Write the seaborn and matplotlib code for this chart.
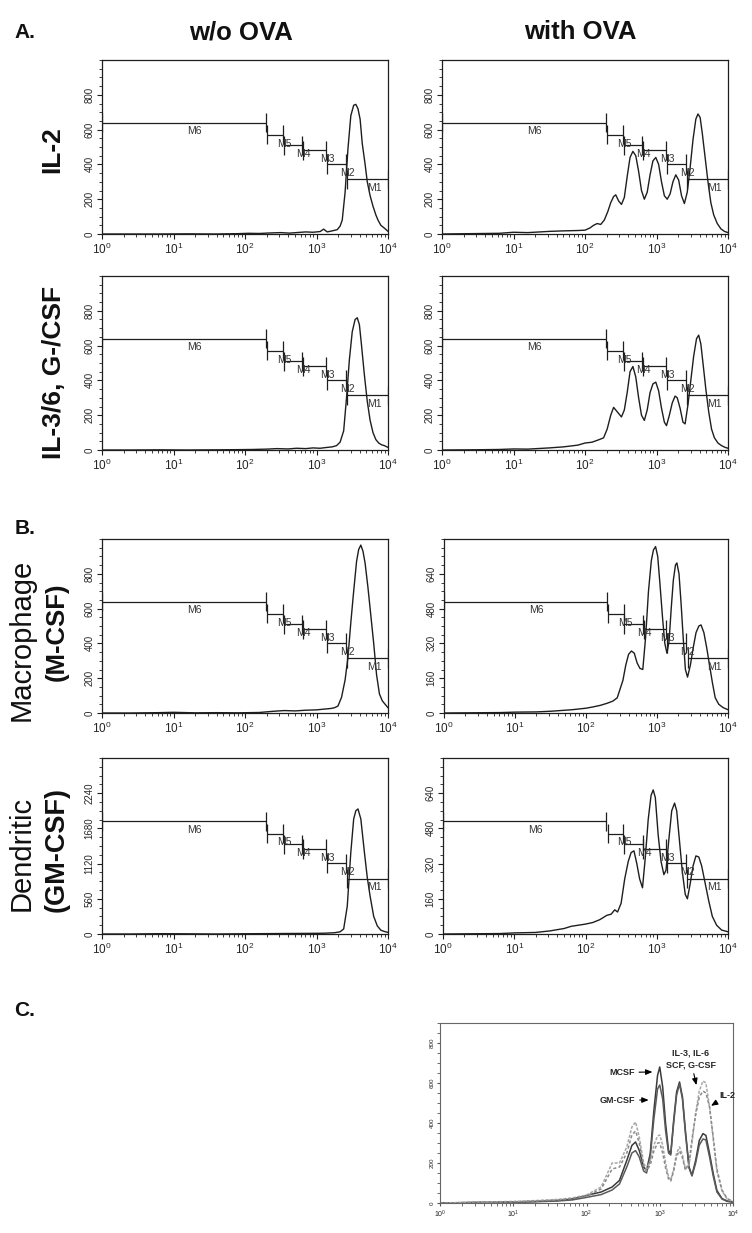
import numpy as np
import pandas as pd
import seaborn as sns
import matplotlib.pyplot as plt
from matplotlib.ticker import FixedLocator, MultipleLocator, LogLocator, NullFormatter

sns.set_style("ticks")
plt.rcParams["font.family"] = ["Liberation Sans", "DejaVu Sans"]
plt.rcParams["mathtext.default"] = "regular"

# marker gates (log10 start, log10 end, height on a 1000-count scale)
gate_names = ["M6", "M5", "M4", "M3", "M2", "M1"]
gate_lo = [0.0, 2.31, 2.54, 2.81, 3.14, 3.43]
gate_hi = [2.29, 2.53, 2.80, 3.13, 3.41, 4.0]
gate_h = [640, 570, 510, 482, 402, 315]

# ---- A. w/o OVA ----
il2_wo_lx = [0.0, 0.4, 0.8, 1.2, 1.6, 1.9, 2.05, 2.2, 2.35, 2.5, 2.62, 2.75, 2.85, 2.95, 3.05, 3.1,
             3.15, 3.22, 3.29, 3.33, 3.36, 3.40, 3.44, 3.48, 3.52, 3.55, 3.58, 3.61, 3.64, 3.68, 3.71,
             3.75, 3.79, 3.83, 3.86, 3.90, 3.93, 3.96, 4.0]
il2_wo_n = [0, 0, 0, 1, 0, 2, 4, 3, 6, 8, 5, 9, 12, 10, 14, 28, 12, 18, 25, 45, 80, 240, 490, 680,
            740, 745, 720, 660, 520, 400, 300, 220, 160, 110, 80, 50, 40, 30, 15]

il36_wo_lx = [0.0, 0.4, 0.8, 1.2, 1.6, 1.9, 2.1, 2.3, 2.45, 2.6, 2.72, 2.85, 2.95, 3.05, 3.15, 3.22,
              3.28, 3.33, 3.38, 3.42, 3.46, 3.50, 3.54, 3.57, 3.60, 3.63, 3.67, 3.71, 3.75, 3.79,
              3.83, 3.87, 3.91, 3.95, 4.0]
il36_wo_n = [0, 0, 1, 0, 1, 2, 3, 5, 8, 6, 10, 8, 12, 10, 15, 18, 25, 45, 110, 300, 520, 680, 750,
             760, 720, 600, 430, 280, 170, 100, 60, 40, 30, 25, 15]

il2_ova_lx = [0.0, 0.4, 0.8, 1.0, 1.2, 1.5, 1.7, 1.9, 2.0, 2.07, 2.12, 2.17, 2.22, 2.27, 2.32, 2.36,
              2.40, 2.43, 2.47, 2.51, 2.55, 2.59, 2.63, 2.67, 2.71, 2.75, 2.79, 2.83, 2.87, 2.91,
              2.95, 2.99, 3.03, 3.07, 3.11, 3.15, 3.19, 3.23, 3.27, 3.31, 3.35, 3.39, 3.43, 3.47,
              3.51, 3.55, 3.58, 3.61, 3.64, 3.68, 3.72, 3.76, 3.80, 3.85, 3.90, 3.95, 4.0]
il2_ova_n = [0, 2, 4, 10, 8, 15, 18, 20, 22, 35, 50, 60, 55, 80, 130, 180, 215, 225, 190, 170, 210,
             330, 440, 475, 450, 360, 250, 200, 240, 340, 420, 440, 400, 300, 220, 200, 230, 300,
             340, 310, 220, 175, 240, 380, 540, 660, 690, 670, 580, 440, 300, 180, 110, 60, 30, 15, 8]

il36_ova_lx = [0.0, 0.4, 0.8, 1.0, 1.2, 1.5, 1.7, 1.9, 2.0, 2.1, 2.2, 2.26, 2.31, 2.36, 2.40, 2.43,
               2.47, 2.51, 2.55, 2.59, 2.63, 2.67, 2.71, 2.75, 2.79, 2.83, 2.87, 2.91, 2.95, 2.99,
               3.03, 3.07, 3.11, 3.14, 3.18, 3.22, 3.26, 3.29, 3.33, 3.37, 3.40, 3.44, 3.48, 3.52,
               3.56, 3.59, 3.62, 3.65, 3.69, 3.73, 3.77, 3.81, 3.86, 3.91, 3.96, 4.0]
il36_ova_n = [0, 1, 3, 6, 5, 12, 18, 28, 40, 45, 60, 70, 120, 200, 245, 230, 210, 190, 230, 330,
              450, 480, 420, 300, 200, 170, 230, 330, 380, 390, 340, 240, 160, 140, 200, 270, 310,
              300, 240, 160, 150, 260, 400, 540, 640, 660, 610, 500, 350, 220, 120, 70, 40, 25, 15, 10]

# ---- B. ----
mac_wo_lx = [0.0, 0.4, 0.8, 1.0, 1.3, 1.6, 1.9, 2.2, 2.4, 2.55, 2.7, 2.85, 3.0, 3.1, 3.2, 3.25,
             3.30, 3.35, 3.40, 3.44, 3.48, 3.52, 3.56, 3.59, 3.62, 3.65, 3.68, 3.72, 3.76, 3.80,
             3.84, 3.88, 3.92, 3.96, 4.0]
mac_wo_n = [0, 0, 2, 4, 1, 2, 1, 3, 10, 14, 12, 16, 18, 22, 26, 30, 40, 90, 190, 320, 520, 700, 870,
            940, 965, 930, 860, 720, 560, 400, 220, 110, 70, 50, 30]

mac_ova_lx = [0.0, 0.4, 0.8, 1.0, 1.3, 1.5, 1.8, 2.0, 2.1, 2.2, 2.3, 2.38, 2.44, 2.48, 2.52, 2.56,
              2.60, 2.64, 2.68, 2.72, 2.76, 2.80, 2.84, 2.88, 2.92, 2.95, 2.98, 3.01, 3.04, 3.08,
              3.11, 3.14, 3.17, 3.20, 3.23, 3.26, 3.28, 3.31, 3.34, 3.37, 3.40, 3.43, 3.47, 3.51,
              3.55, 3.59, 3.62, 3.66, 3.70, 3.74, 3.78, 3.82, 3.87, 3.93, 4.0]
mac_ova_n = [0, 1, 2, 4, 5, 8, 15, 22, 28, 35, 45, 55, 70, 110, 150, 220, 270, 285, 275, 230, 205,
             200, 350, 560, 700, 750, 765, 720, 600, 430, 320, 275, 330, 480, 610, 680, 690, 640,
             500, 340, 200, 165, 220, 300, 370, 400, 405, 370, 300, 220, 140, 70, 40, 25, 15]

den_wo_lx = [0.0, 0.4, 0.8, 1.2, 1.6, 2.0, 2.3, 2.6, 2.9, 3.1, 3.25, 3.33, 3.38, 3.43, 3.48, 3.52,
             3.55, 3.58, 3.62, 3.67, 3.71, 3.75, 3.80, 3.85, 3.90, 3.95, 4.0]
den_wo_n = [0, 0, 5, 3, 0, 4, 6, 8, 10, 12, 20, 35, 80, 440, 1300, 1830, 1960, 1990, 1830, 1300,
            900, 600, 280, 130, 60, 40, 25]

den_ova_lx = [0.0, 0.4, 0.8, 1.0, 1.3, 1.5, 1.7, 1.8, 2.0, 2.1, 2.2, 2.3, 2.36, 2.41, 2.45, 2.5,
              2.55, 2.6, 2.64, 2.68, 2.72, 2.76, 2.8, 2.84, 2.88, 2.92, 2.95, 2.98, 3.02, 3.06,
              3.10, 3.13, 3.17, 3.21, 3.25, 3.28, 3.32, 3.36, 3.40, 3.43, 3.47, 3.51, 3.55, 3.59,
              3.63, 3.68, 3.73, 3.78, 3.84, 3.91, 4.0]
den_ova_n = [0, 1, 2, 5, 7, 14, 25, 35, 45, 52, 65, 85, 90, 110, 100, 140, 250, 330, 370, 378, 320,
             250, 210, 350, 520, 630, 655, 620, 450, 330, 270, 290, 430, 560, 595, 560, 420, 280,
             180, 160, 230, 310, 355, 350, 310, 230, 150, 80, 40, 18, 10]

# ---- C. overlay ----
c_lx = [0.0, 0.5, 1.0, 1.3, 1.6, 1.8, 2.0, 2.2, 2.35, 2.45, 2.55, 2.62, 2.67, 2.72, 2.78, 2.82, 2.87,
        2.92, 2.97, 3.0, 3.04, 3.08, 3.12, 3.15, 3.19, 3.23, 3.27, 3.31, 3.35, 3.40, 3.44, 3.49,
        3.54, 3.59, 3.63, 3.68, 3.73, 3.78, 3.85, 3.92, 4.0]
c_mcsf = [0, 3, 5, 8, 12, 20, 38, 55, 80, 113, 213, 288, 305, 263, 180, 163, 247, 463, 638, 680,
          580, 397, 263, 247, 413, 555, 605, 530, 363, 180, 138, 213, 313, 347, 338, 247, 147, 63,
          22, 10, 5]
c_gmcsf = [0, 2, 4, 6, 10, 15, 28, 42, 65, 95, 180, 250, 262, 230, 160, 150, 230, 420, 570, 590,
           520, 360, 250, 240, 400, 540, 595, 520, 350, 175, 135, 200, 290, 320, 315, 230, 135, 55,
           20, 8, 4]
c_il3 = [0, 4, 8, 12, 18, 25, 40, 80, 200, 200, 280, 380, 405, 330, 200, 170, 210, 290, 335, 340,
         290, 200, 130, 115, 170, 250, 280, 240, 170, 190, 300, 450, 560, 610, 600, 480, 320, 160,
         60, 20, 8]
c_il2 = [0, 3, 6, 10, 15, 22, 35, 70, 170, 180, 250, 340, 360, 300, 185, 160, 190, 260, 300, 300,
         250, 175, 120, 110, 160, 235, 260, 225, 165, 200, 320, 440, 530, 560, 550, 480, 330, 170,
         65, 22, 8]

INK = "#1e1e1e"

fig = plt.figure(figsize=(7.52, 12.33), dpi=100)
W, H = 752.0, 1233.0


def rect(x0, y0, x1, y1):
    return [x0 / W, 1 - y1 / H, (x1 - x0) / W, (y1 - y0) / H]


def style_axes(ax, ymax, yticks, yminor, fs=7, xfs=8.5):
    ax.set_xscale("log")
    ax.set_xlim(1, 1e4)
    ax.set_ylim(0, ymax)
    ax.xaxis.set_major_locator(LogLocator(base=10, numticks=6))
    ax.xaxis.set_minor_locator(LogLocator(base=10, subs=np.arange(2, 10), numticks=40))
    ax.xaxis.set_minor_formatter(NullFormatter())
    ax.yaxis.set_major_locator(FixedLocator(yticks))
    ax.yaxis.set_minor_locator(MultipleLocator(yminor))
    ax.set_xlabel("")
    ax.set_ylabel("")
    ax.tick_params(which="major", direction="out", length=3.5, width=0.8, color=INK, pad=2)
    ax.tick_params(which="minor", direction="out", length=2, width=0.6, color=INK)
    ax.tick_params(axis="x", labelsize=xfs)
    ax.tick_params(axis="y", labelsize=fs, labelrotation=90)
    for t in ax.get_yticklabels():
        t.set_va("center")
    for s in ax.spines.values():
        s.set_linewidth(0.9)
        s.set_color(INK)


def draw_gates(ax, ymax):
    k = ymax / 1000.0
    for name, lo, hi, h in zip(gate_names, gate_lo, gate_hi, gate_h):
        ax.hlines(h * k, 10 ** lo, 10 ** hi, color=INK, lw=0.9)
        ax.vlines([10 ** lo, 10 ** hi], (h - 55) * k, (h + 55) * k, color=INK, lw=0.9)
        if name == "M6":
            tx = (lo + hi) / 2 + 0.15
        elif name == "M1":
            tx = (lo + hi) / 2 + 0.1
        else:
            tx = hi + 0.02
        ax.text(10 ** tx, (h - 50) * k, name, ha="center", va="center", fontsize=7.5, color="#333333")


panels = [
    # (rect, lx, n, ymax, yticks, yminor)
    (rect(102, 60, 388, 234), il2_wo_lx, il2_wo_n, 1000, [0, 200, 400, 600, 800], 50),
    (rect(442, 60, 728, 234), il2_ova_lx, il2_ova_n, 1000, [0, 200, 400, 600, 800], 50),
    (rect(102, 276, 388, 450), il36_wo_lx, il36_wo_n, 1000, [0, 200, 400, 600, 800], 50),
    (rect(442, 276, 728, 450), il36_ova_lx, il36_ova_n, 1000, [0, 200, 400, 600, 800], 50),
    (rect(102, 539, 388, 713), mac_wo_lx, mac_wo_n, 1000, [0, 200, 400, 600, 800], 50),
    (rect(444, 539, 728, 713), mac_ova_lx, mac_ova_n, 800, [0, 160, 320, 480, 640], 40),
    (rect(102, 758, 388, 934), den_wo_lx, den_wo_n, 2800, [0, 560, 1120, 1680, 2240], 140),
    (rect(443, 758, 728, 934), den_ova_lx, den_ova_n, 800, [0, 160, 320, 480, 640], 40),
]

for r, lx, n, ymax, yt, ym in panels:
    ax = fig.add_axes(r)
    sns.lineplot(x=10 ** np.array(lx), y=n, ax=ax, color=INK, lw=1.0,
                 estimator=None, sort=False)
    draw_gates(ax, ymax)
    style_axes(ax, ymax, yt, ym)

# panel C overlay
n_pts = len(c_lx)
cdf = pd.DataFrame({
    "fl": np.tile(10 ** np.array(c_lx), 4),
    "count": c_mcsf + c_gmcsf + c_il3 + c_il2,
    "cyt": ["MCSF"] * n_pts + ["GM-CSF"] * n_pts + ["IL-3"] * n_pts + ["IL-2"] * n_pts,
})
axc = fig.add_axes(rect(440, 1023, 733, 1203))
sns.lineplot(data=cdf, x="fl", y="count", hue="cyt", style="cyt", ax=axc,
             palette={"MCSF": "#3a3a3a", "GM-CSF": "#5a5a5a", "IL-3": "#a8a8a8", "IL-2": "#8a8a8a"},
             dashes={"MCSF": "", "GM-CSF": "", "IL-3": (2, 1), "IL-2": (2, 1.5)},
             lw=1.1, estimator=None, sort=False, legend=False)
style_axes(axc, 900, [0, 200, 400, 600, 800], 50, fs=4.5, xfs=5)
for s in axc.spines.values():
    s.set_color("#666666")
    s.set_linewidth(0.8)
axc.tick_params(which="both", color="#555555", length=2)

arw = dict(arrowstyle="-|>,head_length=0.6,head_width=0.25", color="k", lw=0.8, shrinkA=1, shrinkB=0)
axc.annotate("MCSF", xy=(0.725, 0.728), xytext=(0.62, 0.725), xycoords="axes fraction",
             textcoords="axes fraction", ha="center", va="center", fontsize=6.5,
             fontweight="bold", arrowprops=arw)
axc.annotate("GM-CSF", xy=(0.712, 0.572), xytext=(0.605, 0.572), xycoords="axes fraction",
             textcoords="axes fraction", ha="center", va="center", fontsize=6.5,
             fontweight="bold", arrowprops=arw)
axc.annotate("IL-3, IL-6\nSCF, G-CSF", xy=(0.875, 0.655), xytext=(0.855, 0.80),
             xycoords="axes fraction", textcoords="axes fraction", ha="center", va="center",
             fontsize=6.5, fontweight="bold", linespacing=1.3, arrowprops=arw)
axc.annotate("IL-2", xy=(0.925, 0.54), xytext=(0.98, 0.595), xycoords="axes fraction",
             textcoords="axes fraction", ha="center", va="center", fontsize=6.5,
             fontweight="bold", arrowprops=arw)


# headings and row labels
def ftext(x, y, s, **kw):
    fig.text(x / W, 1 - y / H, s, ha="center", va="center", color="#111111", **kw)


ftext(25, 32, "A.", fontsize=15, fontweight="bold")
ftext(241, 32, "w/o OVA", fontsize=18.5, fontweight="bold")
ftext(580, 32, "with OVA", fontsize=18.5, fontweight="bold")
ftext(25, 529, "B.", fontsize=15, fontweight="bold")
ftext(25, 1010, "C.", fontsize=15, fontweight="bold")

ftext(52, 150, "IL-2", fontsize=19, fontweight="bold", rotation=90)
ftext(54, 372, "IL-3/6, G-/CSF", fontsize=19, fontweight="bold", rotation=90)
ftext(22, 640, "Macrophage", fontsize=21, rotation=90)
ftext(57, 632, "(M-CSF)", fontsize=18.5, fontweight="bold", rotation=90)
ftext(22, 853, "Dendritic", fontsize=21, rotation=90)
ftext(57, 849, "(GM-CSF)", fontsize=19.5, fontweight="bold", rotation=90)

fig.savefig("out.png", dpi=100)
